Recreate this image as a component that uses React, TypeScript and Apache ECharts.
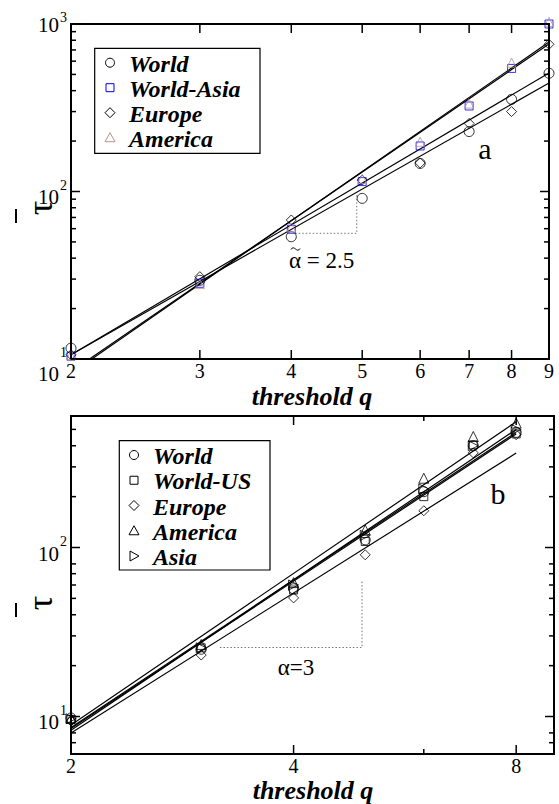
import React, { useEffect, useRef } from "react";
import * as echarts from "echarts";

// ---------- Panel a (top) ----------
const qTop = [2, 3, 4, 5, 6, 7, 8, 9];
const worldTop = [11.6, 29.5, 53.7, 91, 147, 228, 355, 508];
const worldAsiaTop = [10.4, 28.3, 59.5, 114.6, 187, 324, 543, 1000];
const europeTop = [10.6, 31, 67.6, 117, 148, 255, 300, 757];
const americaTop = [10.5, 28, 61, 119, 198, 335, 588, 1030];

const fitQTop = [2, 9];
const fitWorldTop = [10.6, 510];
const fitEuropeTop = [10.6, 445];
const fitWorldAsiaTop = [8.4, 760];
const fitAmericaTop = [8.2, 780];

const guideQTop = [4.05, 4.915, 4.915];
const guideTauTop = [56.3, 56.3, 95.3];

// ---------- Panel b (bottom) ----------
const qBottom = [2, 3, 4, 5, 6, 7, 8];
const worldBottom = [9.8, 25, 57, 111, 214, 400, 480];
const worldUSBottom = [9.6, 25.5, 56, 108.5, 200, 405, 470];
const europeBottom = [9.4, 23.1, 50.3, 90.5, 165, 363, 465];
const americaBottom = [9.8, 26.7, 62, 127, 257, 454, 545];
const asiaBottom = [9.7, 25.5, 60, 118, 222, 400, 500];

const fitQBottom = [2, 8];
const fitWorldBottom = [8.6, 480];
const fitWorldUSBottom = [8.5, 470];
const fitEuropeBottom = [8.0, 362];
const fitAmericaBottom = [8.9, 555];
const fitAsiaBottom = [8.3, 500];

const guideQBottom = [3.18, 4.95, 4.95];
const guideTauBottom = [25.6, 25.6, 62.9];

// ---------- Axes / ticks ----------
const xRangeTop = [2, 9];
const yRangeTop = [10, 1000];
const xRangeBottom = [2, 9];
const yRangeBottom = [6, 600];

const xMajorTop = [2, 3, 4, 5, 6, 7, 8, 9];
const xLabelsTop = ["2", "3", "4", "5", "6", "7", "8", "9"];
const xMinorTop: number[] = [];
const yMajorTop = [10, 100, 1000];
const yExpTop = ["1", "2", "3"];
const yMinorTop = [20, 30, 40, 50, 60, 70, 80, 90, 200, 300, 400, 500, 600, 700, 800, 900];

const xMajorBottom = [2, 4, 8];
const xLabelsBottom = ["2", "4", "8"];
const xMinorBottom = [6];
const yMajorBottom = [10, 100];
const yExpBottom = ["1", "2"];
const yMinorBottom = [7, 8, 20, 30, 40, 50, 60, 70, 80, 200, 300, 400, 500];

const FONT = "'Liberation Serif', 'Times New Roman', serif";

function pairs(xs: number[], ys: number[]) {
  return xs.map((x, i) => [x, ys[i]]);
}

function textStyle(text: string, size: number, align: string, italic = false, bold = false) {
  return {
    text,
    fill: "#000",
    fontSize: size,
    fontFamily: FONT,
    fontStyle: italic ? "italic" : "normal",
    fontWeight: bold ? "bold" : "normal",
    textAlign: align,
    align,
    textVerticalAlign: "middle",
    verticalAlign: "middle",
  };
}

function tickSeries(
  gi: number,
  xr: number[],
  yr: number[],
  xMaj: number[],
  xMin: number[],
  yMaj: number[],
  yMin: number[],
  xLab: string[],
  yExp: string[],
  yBaseOff: number[]
) {
  return {
    type: "custom",
    xAxisIndex: gi,
    yAxisIndex: gi,
    clip: false,
    silent: true,
    z: 10,
    data: [[xr[0], yr[0]]],
    renderItem: (_p: any, api: any) => {
      const [L, B] = api.coord([xr[0], yr[0]]);
      const [R, T] = api.coord([xr[1], yr[1]]);
      const ch: any[] = [];
      const ln = (x1: number, y1: number, x2: number, y2: number) =>
        ch.push({ type: "line", shape: { x1, y1, x2, y2 }, style: { stroke: "#000", lineWidth: 1.5 } });
      const txt = (text: string, x: number, y: number, size: number, align: string) =>
        ch.push({ type: "text", x, y, style: textStyle(text, size, align) });
      xMaj.forEach((v, i) => {
        const x = api.coord([v, yr[0]])[0];
        ln(x, B, x, B - 9);
        ln(x, T, x, T + 9);
        txt(xLab[i], x, B + 12, 20, "center");
      });
      xMin.forEach((v) => {
        const x = api.coord([v, yr[0]])[0];
        ln(x, B, x, B - 5);
        ln(x, T, x, T + 5);
      });
      yMaj.forEach((v, i) => {
        const y = api.coord([xr[0], v])[1];
        ln(L, y, L + 9, y);
        ln(R, y, R - 9, y);
        txt("10", L - 12, y + yBaseOff[i], 21, "right");
        txt(yExp[i], L - 11, y - 6.5, 14, "left");
      });
      yMin.forEach((v) => {
        const y = api.coord([xr[0], v])[1];
        ln(L, y, L + 5, y);
        ln(R, y, R - 5, y);
      });
      return { type: "group", children: ch };
    },
  };
}

function fitLine(gi: number, qs: number[], taus: number[]) {
  return {
    type: "line", xAxisIndex: gi, yAxisIndex: gi, data: pairs(qs, taus),
    symbol: "none", showSymbol: false, clip: true, silent: true, z: 2,
    lineStyle: { color: "#000", width: 1.2 },
  };
}

function guideLine(gi: number, qs: number[], taus: number[]) {
  return {
    type: "line", xAxisIndex: gi, yAxisIndex: gi, data: pairs(qs, taus),
    symbol: "none", showSymbol: false, clip: true, silent: true, z: 2,
    lineStyle: { color: "#777", width: 1, type: [1.5, 2] },
  };
}

function scatter(gi: number, name: string, qs: number[], taus: number[], symbol: string, size: number, color: string, rotate = 0) {
  return {
    type: "scatter", name, xAxisIndex: gi, yAxisIndex: gi, data: pairs(qs, taus),
    symbol, symbolSize: size, symbolRotate: rotate, clip: false, silent: true, z: 3,
    itemStyle: { color: "rgba(0,0,0,0)", borderColor: color, borderWidth: 1 },
  };
}

function legendSymbol(kind: string, cx: number, cy: number, color: string) {
  const style = { fill: "none", stroke: color, lineWidth: 1 };
  if (kind === "circle") return { type: "circle", shape: { cx, cy, r: 4.5 }, style };
  if (kind === "rect") return { type: "rect", shape: { x: cx - 4, y: cy - 4, width: 8, height: 8 }, style };
  if (kind === "diamond")
    return { type: "polygon", shape: { points: [[cx, cy - 5], [cx + 5, cy], [cx, cy + 5], [cx - 5, cy]] }, style };
  if (kind === "triangle")
    return { type: "polygon", shape: { points: [[cx, cy - 5], [cx + 5, cy + 4], [cx - 5, cy + 4]] }, style };
  return { type: "polygon", shape: { points: [[cx + 5, cy], [cx - 4, cy - 5], [cx - 4, cy + 5]] }, style };
}

function legendBlock(box: number[], symX: number, textX: number, rows: number[], items: { name: string; kind: string; color: string }[]) {
  const els: any[] = [
    {
      type: "rect",
      shape: { x: box[0], y: box[1], width: box[2] - box[0], height: box[3] - box[1] },
      style: { fill: "#fff", stroke: "#000", lineWidth: 1.2 },
      z: 20,
    },
  ];
  items.forEach((it, i) => {
    els.push({ ...legendSymbol(it.kind, symX, rows[i], it.color), z: 21 });
    els.push({ type: "text", x: textX, y: rows[i] + 1, z: 21, style: textStyle(it.name, 24, "left", true, true) });
  });
  return els;
}

function label(text: string, x: number, y: number, size: number, italic = false, bold = false, align = "center", rotation?: number) {
  const el: any = { type: "text", x, y, z: 30, style: textStyle(text, size, align, italic, bold) };
  if (rotation !== undefined) el.rotation = rotation;
  return el;
}

export default function App() {
  const ref = useRef<HTMLDivElement>(null);
  useEffect(() => {
    const chart = echarts.init(ref.current!, null, { renderer: "svg" });
    const axisOff = {
      axisLine: { show: false }, axisTick: { show: false }, axisLabel: { show: false },
      splitLine: { show: false }, minorTick: { show: false },
    };
    const option: any = {
      animation: false,
      backgroundColor: "#fff",
      grid: [
        { left: 71, top: 24, width: 478, height: 335, show: true, borderColor: "#000", borderWidth: 2, backgroundColor: "rgba(0,0,0,0)" },
        { left: 71, top: 416, width: 483, height: 338, show: true, borderColor: "#000", borderWidth: 2, backgroundColor: "rgba(0,0,0,0)" },
      ],
      xAxis: [
        { type: "log", gridIndex: 0, min: xRangeTop[0], max: xRangeTop[1], ...axisOff },
        { type: "log", gridIndex: 1, min: xRangeBottom[0], max: xRangeBottom[1], ...axisOff },
      ],
      yAxis: [
        { type: "log", gridIndex: 0, min: yRangeTop[0], max: yRangeTop[1], ...axisOff },
        { type: "log", gridIndex: 1, min: yRangeBottom[0], max: yRangeBottom[1], ...axisOff },
      ],
      series: [
        fitLine(0, fitQTop, fitWorldTop),
        fitLine(0, fitQTop, fitEuropeTop),
        fitLine(0, fitQTop, fitWorldAsiaTop),
        fitLine(0, fitQTop, fitAmericaTop),
        guideLine(0, guideQTop, guideTauTop),
        scatter(0, "World", qTop, worldTop, "circle", 10, "#000"),
        scatter(0, "World-Asia", qTop, worldAsiaTop, "rect", 8, "#0000ff"),
        scatter(0, "Europe", qTop, europeTop, "diamond", 10, "#000"),
        scatter(0, "America", qTop, americaTop, "triangle", 9, "#bc8f8f"),
        tickSeries(0, xRangeTop, yRangeTop, xMajorTop, xMinorTop, yMajorTop, yMinorTop, xLabelsTop, yExpTop, [15, 5.5, 1]),

        fitLine(1, fitQBottom, fitWorldBottom),
        fitLine(1, fitQBottom, fitWorldUSBottom),
        fitLine(1, fitQBottom, fitEuropeBottom),
        fitLine(1, fitQBottom, fitAmericaBottom),
        fitLine(1, fitQBottom, fitAsiaBottom),
        guideLine(1, guideQBottom, guideTauBottom),
        scatter(1, "World ", qBottom, worldBottom, "circle", 10, "#000"),
        scatter(1, "World-US", qBottom, worldUSBottom, "rect", 8, "#000"),
        scatter(1, "Europe ", qBottom, europeBottom, "diamond", 10, "#000"),
        scatter(1, "America ", qBottom, americaBottom, "triangle", 10, "#000"),
        scatter(1, "Asia", qBottom, asiaBottom, "triangle", 10, "#000", -90),
        tickSeries(1, xRangeBottom, yRangeBottom, xMajorBottom, xMinorBottom, yMajorBottom, yMinorBottom, xLabelsBottom, yExpBottom, [5.5, 6]),
      ],
      graphic: [
        ...legendBlock([94.7, 48.3, 260, 153.3], 110, 129, [62.7, 87.7, 112.7, 137.7], [
          { name: "World", kind: "circle", color: "#000" },
          { name: "World-Asia", kind: "rect", color: "#0000ff" },
          { name: "Europe", kind: "diamond", color: "#000" },
          { name: "America", kind: "triangle", color: "#bc8f8f" },
        ]),
        ...legendBlock([119.3, 440.7, 270, 570], 134, 153, [455, 480.25, 505.5, 530.75, 556], [
          { name: "World", kind: "circle", color: "#000" },
          { name: "World-US", kind: "rect", color: "#000" },
          { name: "Europe", kind: "diamond", color: "#000" },
          { name: "America", kind: "triangle", color: "#000" },
          { name: "Asia", kind: "triRight", color: "#000" },
        ]),
        label("threshold q", 312, 396, 26, true, true),
        label("threshold q", 313, 790, 26, true, true),
        label("τ", 40, 208, 36, false, false, "center", Math.PI / 2),
        { type: "line", shape: { x1: 16, y1: 209, x2: 16, y2: 223 }, style: { stroke: "#000", lineWidth: 2 }, z: 30 },
        label("τ", 40, 603, 36, false, false, "center", Math.PI / 2),
        { type: "line", shape: { x1: 16, y1: 603, x2: 16, y2: 617 }, style: { stroke: "#000", lineWidth: 2 }, z: 30 },
        label("α = 2.5", 289, 260, 23, false, false, "left"),
        {
          type: "bezierCurve",
          z: 30,
          shape: { x1: 291, y1: 249.5, x2: 300, y2: 248.5, cpx1: 294, cpy1: 244, cpx2: 297, cpy2: 254 },
          style: { stroke: "#000", lineWidth: 1, fill: "none" },
        },
        label("α=3", 296, 667, 23),
        label("a", 485, 148, 30),
        label("b", 498, 493, 30),
      ],
    };
    chart.setOption(option);
    return () => chart.dispose();
  }, []);
  return <div ref={ref} style={{ position: "absolute", left: 0, top: 0, width: 559, height: 804, background: "#fff" }} />;
}
